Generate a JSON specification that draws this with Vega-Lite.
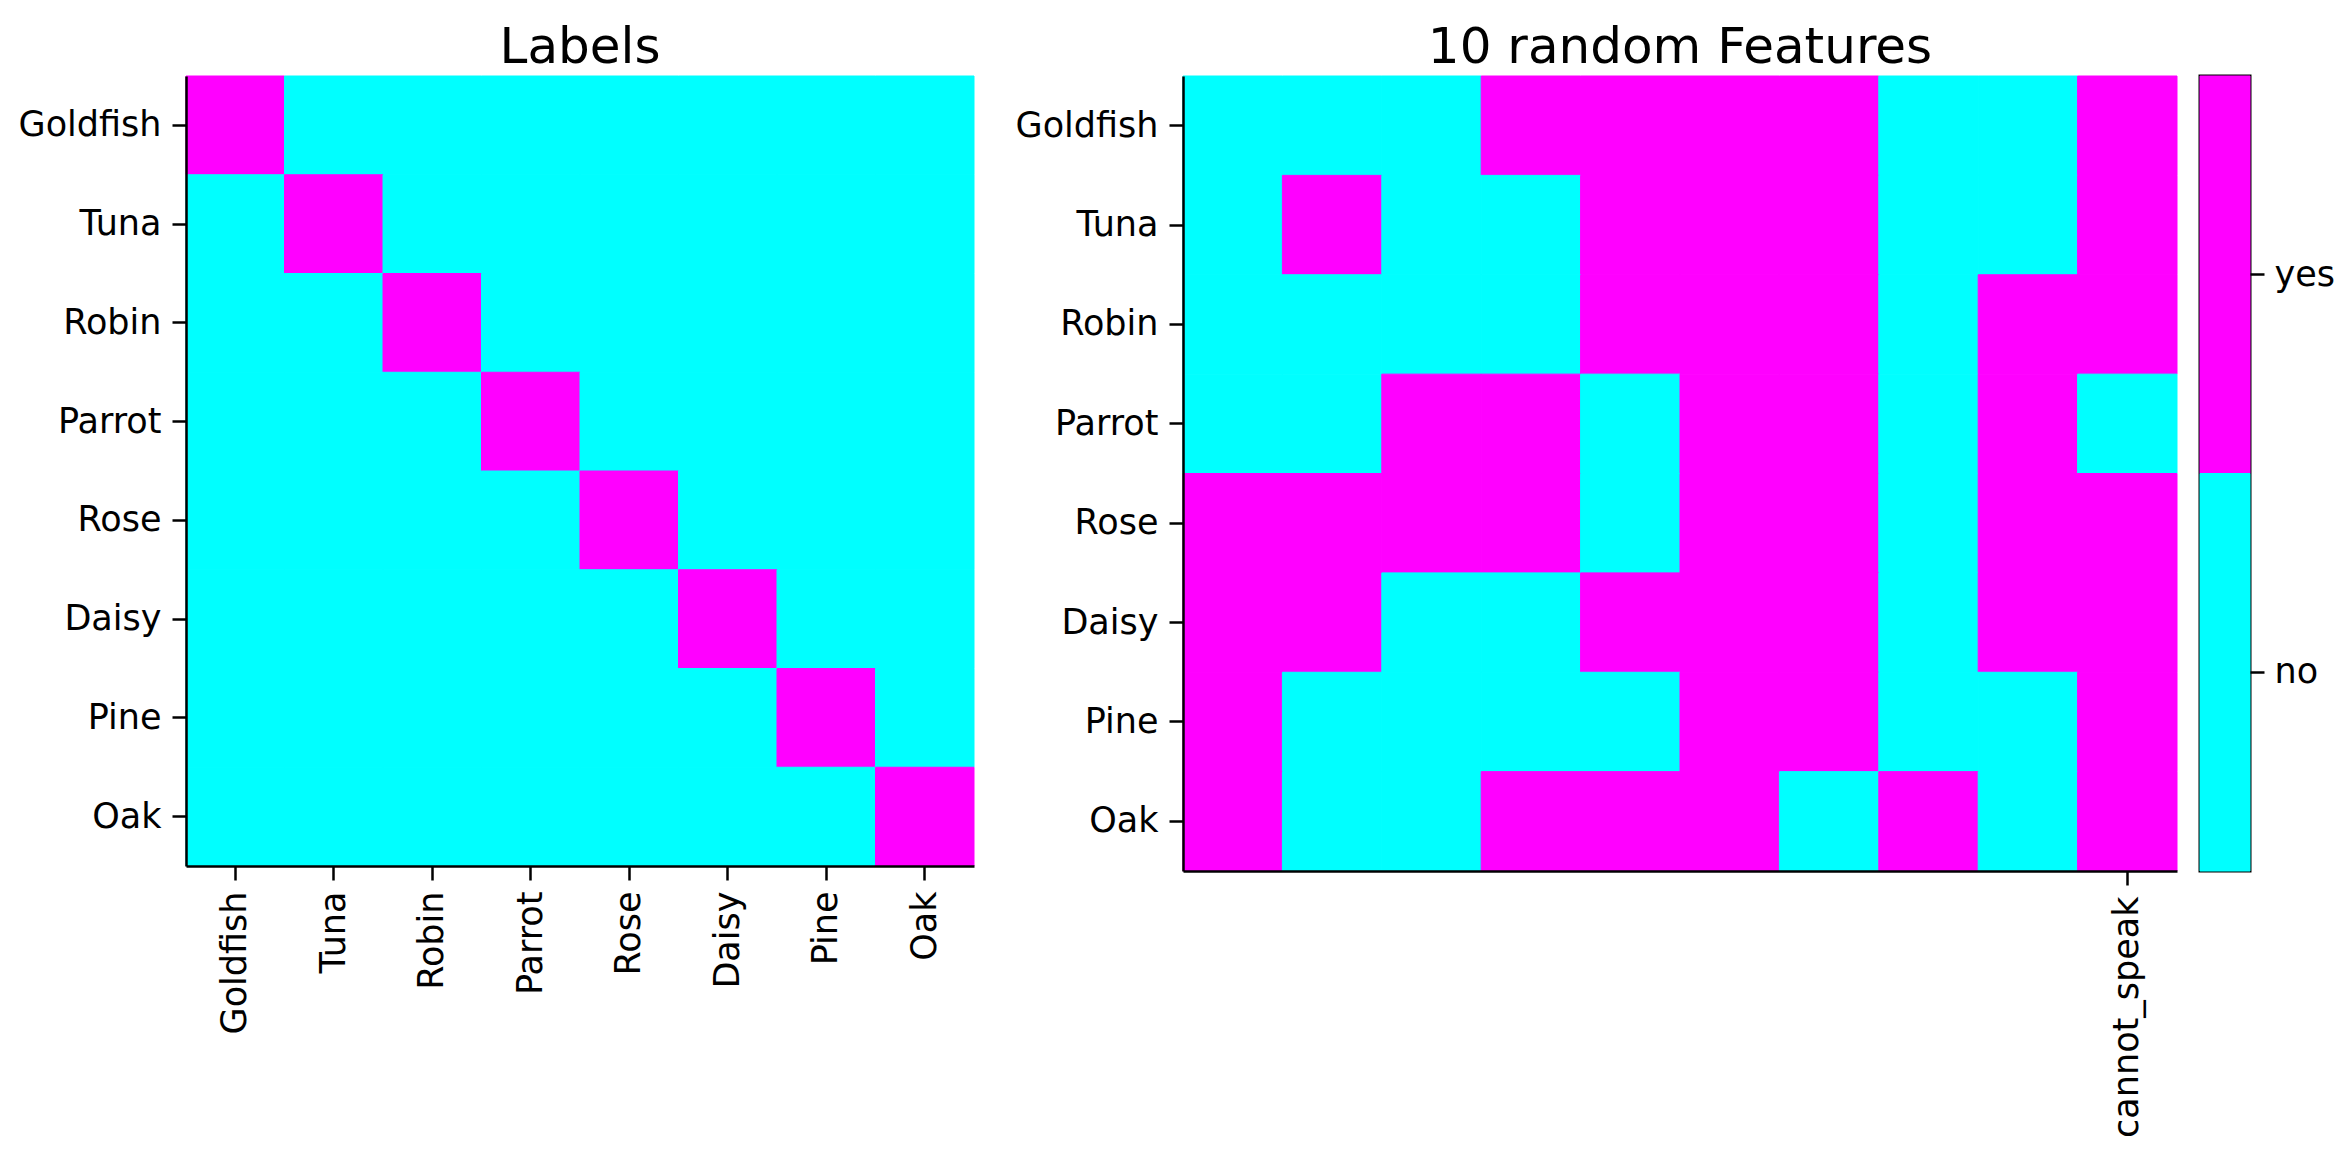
{
  "$schema": "https://vega.github.io/schema/vega-lite/v6.json",
  "background": "white",
  "padding": {"left": 18, "top": 22, "right": 5, "bottom": 5},
  "datasets": {
    "labels": [
      {"r":"Goldfish","c":"Goldfish","v":1},{"r":"Goldfish","c":"Tuna","v":0},{"r":"Goldfish","c":"Robin","v":0},{"r":"Goldfish","c":"Parrot","v":0},{"r":"Goldfish","c":"Rose","v":0},{"r":"Goldfish","c":"Daisy","v":0},{"r":"Goldfish","c":"Pine","v":0},{"r":"Goldfish","c":"Oak","v":0},
      {"r":"Tuna","c":"Goldfish","v":0},{"r":"Tuna","c":"Tuna","v":1},{"r":"Tuna","c":"Robin","v":0},{"r":"Tuna","c":"Parrot","v":0},{"r":"Tuna","c":"Rose","v":0},{"r":"Tuna","c":"Daisy","v":0},{"r":"Tuna","c":"Pine","v":0},{"r":"Tuna","c":"Oak","v":0},
      {"r":"Robin","c":"Goldfish","v":0},{"r":"Robin","c":"Tuna","v":0},{"r":"Robin","c":"Robin","v":1},{"r":"Robin","c":"Parrot","v":0},{"r":"Robin","c":"Rose","v":0},{"r":"Robin","c":"Daisy","v":0},{"r":"Robin","c":"Pine","v":0},{"r":"Robin","c":"Oak","v":0},
      {"r":"Parrot","c":"Goldfish","v":0},{"r":"Parrot","c":"Tuna","v":0},{"r":"Parrot","c":"Robin","v":0},{"r":"Parrot","c":"Parrot","v":1},{"r":"Parrot","c":"Rose","v":0},{"r":"Parrot","c":"Daisy","v":0},{"r":"Parrot","c":"Pine","v":0},{"r":"Parrot","c":"Oak","v":0},
      {"r":"Rose","c":"Goldfish","v":0},{"r":"Rose","c":"Tuna","v":0},{"r":"Rose","c":"Robin","v":0},{"r":"Rose","c":"Parrot","v":0},{"r":"Rose","c":"Rose","v":1},{"r":"Rose","c":"Daisy","v":0},{"r":"Rose","c":"Pine","v":0},{"r":"Rose","c":"Oak","v":0},
      {"r":"Daisy","c":"Goldfish","v":0},{"r":"Daisy","c":"Tuna","v":0},{"r":"Daisy","c":"Robin","v":0},{"r":"Daisy","c":"Parrot","v":0},{"r":"Daisy","c":"Rose","v":0},{"r":"Daisy","c":"Daisy","v":1},{"r":"Daisy","c":"Pine","v":0},{"r":"Daisy","c":"Oak","v":0},
      {"r":"Pine","c":"Goldfish","v":0},{"r":"Pine","c":"Tuna","v":0},{"r":"Pine","c":"Robin","v":0},{"r":"Pine","c":"Parrot","v":0},{"r":"Pine","c":"Rose","v":0},{"r":"Pine","c":"Daisy","v":0},{"r":"Pine","c":"Pine","v":1},{"r":"Pine","c":"Oak","v":0},
      {"r":"Oak","c":"Goldfish","v":0},{"r":"Oak","c":"Tuna","v":0},{"r":"Oak","c":"Robin","v":0},{"r":"Oak","c":"Parrot","v":0},{"r":"Oak","c":"Rose","v":0},{"r":"Oak","c":"Daisy","v":0},{"r":"Oak","c":"Pine","v":0},{"r":"Oak","c":"Oak","v":1}
    ],
    "features": [
      {"r":"Goldfish","f":"feature_0","v":0},{"r":"Goldfish","f":"feature_1","v":0},{"r":"Goldfish","f":"feature_2","v":0},{"r":"Goldfish","f":"feature_3","v":1},{"r":"Goldfish","f":"feature_4","v":1},{"r":"Goldfish","f":"feature_5","v":1},{"r":"Goldfish","f":"feature_6","v":1},{"r":"Goldfish","f":"feature_7","v":0},{"r":"Goldfish","f":"feature_8","v":0},{"r":"Goldfish","f":"cannot_speak","v":1},
      {"r":"Tuna","f":"feature_0","v":0},{"r":"Tuna","f":"feature_1","v":1},{"r":"Tuna","f":"feature_2","v":0},{"r":"Tuna","f":"feature_3","v":0},{"r":"Tuna","f":"feature_4","v":1},{"r":"Tuna","f":"feature_5","v":1},{"r":"Tuna","f":"feature_6","v":1},{"r":"Tuna","f":"feature_7","v":0},{"r":"Tuna","f":"feature_8","v":0},{"r":"Tuna","f":"cannot_speak","v":1},
      {"r":"Robin","f":"feature_0","v":0},{"r":"Robin","f":"feature_1","v":0},{"r":"Robin","f":"feature_2","v":0},{"r":"Robin","f":"feature_3","v":0},{"r":"Robin","f":"feature_4","v":1},{"r":"Robin","f":"feature_5","v":1},{"r":"Robin","f":"feature_6","v":1},{"r":"Robin","f":"feature_7","v":0},{"r":"Robin","f":"feature_8","v":1},{"r":"Robin","f":"cannot_speak","v":1},
      {"r":"Parrot","f":"feature_0","v":0},{"r":"Parrot","f":"feature_1","v":0},{"r":"Parrot","f":"feature_2","v":1},{"r":"Parrot","f":"feature_3","v":1},{"r":"Parrot","f":"feature_4","v":0},{"r":"Parrot","f":"feature_5","v":1},{"r":"Parrot","f":"feature_6","v":1},{"r":"Parrot","f":"feature_7","v":0},{"r":"Parrot","f":"feature_8","v":1},{"r":"Parrot","f":"cannot_speak","v":0},
      {"r":"Rose","f":"feature_0","v":1},{"r":"Rose","f":"feature_1","v":1},{"r":"Rose","f":"feature_2","v":1},{"r":"Rose","f":"feature_3","v":1},{"r":"Rose","f":"feature_4","v":0},{"r":"Rose","f":"feature_5","v":1},{"r":"Rose","f":"feature_6","v":1},{"r":"Rose","f":"feature_7","v":0},{"r":"Rose","f":"feature_8","v":1},{"r":"Rose","f":"cannot_speak","v":1},
      {"r":"Daisy","f":"feature_0","v":1},{"r":"Daisy","f":"feature_1","v":1},{"r":"Daisy","f":"feature_2","v":0},{"r":"Daisy","f":"feature_3","v":0},{"r":"Daisy","f":"feature_4","v":1},{"r":"Daisy","f":"feature_5","v":1},{"r":"Daisy","f":"feature_6","v":1},{"r":"Daisy","f":"feature_7","v":0},{"r":"Daisy","f":"feature_8","v":1},{"r":"Daisy","f":"cannot_speak","v":1},
      {"r":"Pine","f":"feature_0","v":1},{"r":"Pine","f":"feature_1","v":0},{"r":"Pine","f":"feature_2","v":0},{"r":"Pine","f":"feature_3","v":0},{"r":"Pine","f":"feature_4","v":0},{"r":"Pine","f":"feature_5","v":1},{"r":"Pine","f":"feature_6","v":1},{"r":"Pine","f":"feature_7","v":0},{"r":"Pine","f":"feature_8","v":0},{"r":"Pine","f":"cannot_speak","v":1},
      {"r":"Oak","f":"feature_0","v":1},{"r":"Oak","f":"feature_1","v":0},{"r":"Oak","f":"feature_2","v":0},{"r":"Oak","f":"feature_3","v":1},{"r":"Oak","f":"feature_4","v":1},{"r":"Oak","f":"feature_5","v":1},{"r":"Oak","f":"feature_6","v":0},{"r":"Oak","f":"feature_7","v":1},{"r":"Oak","f":"feature_8","v":0},{"r":"Oak","f":"cannot_speak","v":1}
    ],
    "cbar": [{"k":"yes"},{"k":"no"}]
  },
  "config": {
    "view": {"stroke": null},
    "axis": {
      "labelFont": "DejaVu Sans",
      "labelFontSize": 35,
      "labelColor": "black",
      "labelLimit": 0,
      "tickColor": "black",
      "tickWidth": 2.5,
      "tickSize": 14,
      "labelPadding": 11,
      "domainColor": "black",
      "domainWidth": 2.5,
      "grid": false
    },
    "title": {
      "font": "DejaVu Sans",
      "fontSize": 50,
      "fontWeight": "normal",
      "color": "black",
      "baseline": "alphabetic",
      "offset": 3,
      "anchor": "middle"
    }
  },
  "spacing": 40,
  "hconcat": [
    {
      "title": "Labels",
      "width": 788,
      "height": 790,
      "data": {"name": "labels"},
      "mark": {"type": "rect", "strokeWidth": 1},
      "encoding": {
        "x": {"field": "c", "type": "nominal", "title": null,
              "sort": ["Goldfish","Tuna","Robin","Parrot","Rose","Daisy","Pine","Oak"],
              "scale": {"paddingInner": 0, "paddingOuter": 0},
              "axis": {"labelAngle": -90, "labelAlign": "right", "labelBaseline": "middle"}},
        "y": {"field": "r", "type": "nominal", "title": null,
              "sort": ["Goldfish","Tuna","Robin","Parrot","Rose","Daisy","Pine","Oak"],
              "scale": {"paddingInner": 0, "paddingOuter": 0}},
        "color": {"field": "v", "type": "nominal", "legend": null,
                  "scale": {"domain": [0, 1], "range": ["#00FFFF", "#FF00FF"]}},
        "stroke": {"field": "v", "type": "nominal", "legend": null,
                  "scale": {"domain": [0, 1], "range": ["#00FFFF", "#FF00FF"]}}
      }
    },
    {
      "spacing": 20,
      "hconcat": [
        {
          "title": "10 random Features",
          "width": 994,
          "height": 795,
          "data": {"name": "features"},
          "mark": {"type": "rect", "strokeWidth": 1},
          "encoding": {
            "x": {"field": "f", "type": "nominal", "title": null,
                  "sort": ["feature_0","feature_1","feature_2","feature_3","feature_4","feature_5","feature_6","feature_7","feature_8","cannot_speak"],
                  "scale": {"paddingInner": 0, "paddingOuter": 0},
                  "axis": {"values": ["cannot_speak"], "labelAngle": -90, "labelAlign": "right", "labelBaseline": "middle"}},
            "y": {"field": "r", "type": "nominal", "title": null,
                  "sort": ["Goldfish","Tuna","Robin","Parrot","Rose","Daisy","Pine","Oak"],
                  "scale": {"paddingInner": 0, "paddingOuter": 0}},
            "color": {"field": "v", "type": "nominal", "legend": null,
                      "scale": {"domain": [0, 1], "range": ["#00FFFF", "#FF00FF"]}},
            "stroke": {"field": "v", "type": "nominal", "legend": null,
                      "scale": {"domain": [0, 1], "range": ["#00FFFF", "#FF00FF"]}}
          }
        },
        {
          "width": 50,
          "height": 795,
          "view": {"stroke": "black", "strokeWidth": 3},
          "data": {"name": "cbar"},
          "mark": {"type": "rect", "strokeWidth": 1},
          "encoding": {
            "y": {"field": "k", "type": "nominal", "title": null,
                  "sort": ["yes", "no"],
                  "scale": {"paddingInner": 0, "paddingOuter": 0},
                  "axis": {"orient": "right", "domain": false, "labelPadding": 10}},
            "color": {"field": "k", "type": "nominal", "legend": null,
                      "scale": {"domain": ["no", "yes"], "range": ["#00FFFF", "#FF00FF"]}},
            "stroke": {"field": "k", "type": "nominal", "legend": null,
                      "scale": {"domain": ["no", "yes"], "range": ["#00FFFF", "#FF00FF"]}}
          }
        }
      ]
    }
  ]
}
